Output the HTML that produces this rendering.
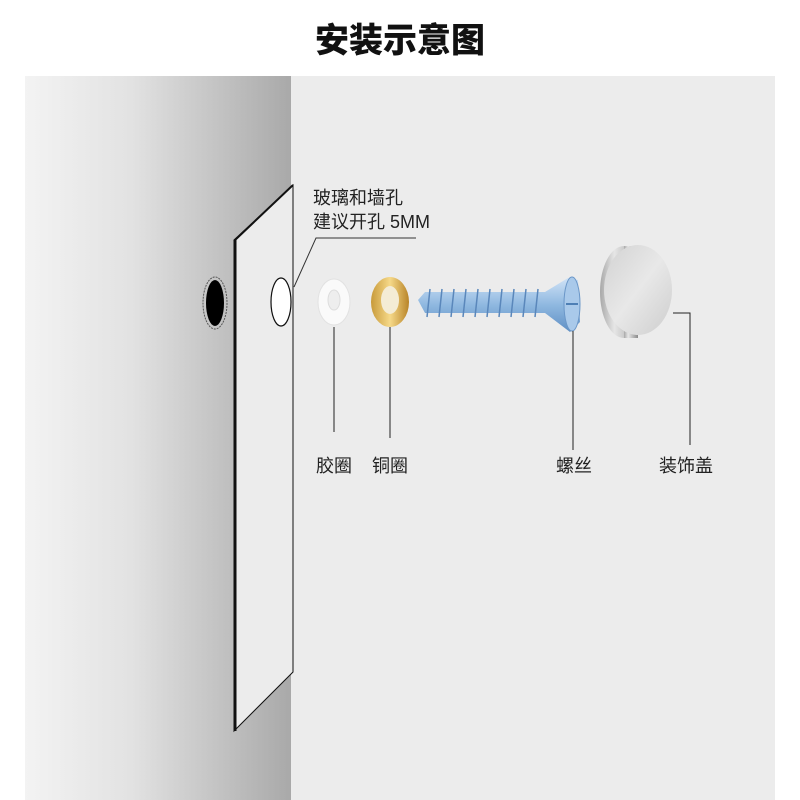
<!DOCTYPE html>
<html><head><meta charset="utf-8"><style>
body{margin:0;width:800px;height:800px;background:#fff;overflow:hidden;font-family:"Liberation Sans","Noto Sans CJK SC",sans-serif;}
.t{position:absolute;color:#222;font-size:18px;}
</style></head><body>
<div style="position:absolute;left:0;top:13px;width:800px;text-align:center;font-size:34px;font-weight:900;color:#111;font-family:'Noto Sans CJK SC',sans-serif;">安装示意图</div>
<svg style="position:absolute;left:0;top:0" width="800" height="800">
<defs>
<linearGradient id="g" x1="0" x2="1"><stop offset="0" stop-color="#f3f3f3"/><stop offset="0.4" stop-color="#e2e2e2"/><stop offset="1" stop-color="#a9a9a9"/></linearGradient>
<linearGradient id="cap" x1="0" x2="1"><stop offset="0" stop-color="#a8a8a8"/><stop offset="0.3" stop-color="#e6e6e6"/><stop offset="0.7" stop-color="#b0b0b0"/><stop offset="1" stop-color="#8a8a8a"/></linearGradient>
<linearGradient id="face" x1="0" y1="0" x2="1" y2="1"><stop offset="0" stop-color="#d2d2d2"/><stop offset="0.5" stop-color="#e8e8e8"/><stop offset="1" stop-color="#cdcdcd"/></linearGradient>
<linearGradient id="gold" x1="0" x2="1"><stop offset="0" stop-color="#c89a3a"/><stop offset="0.5" stop-color="#f6d989"/><stop offset="1" stop-color="#b88428"/></linearGradient>
<linearGradient id="blue" x1="0" y1="0" x2="0" y2="1"><stop offset="0" stop-color="#cfe2f6"/><stop offset="0.5" stop-color="#8fb8e0"/><stop offset="1" stop-color="#5f8fc4"/></linearGradient>
</defs>
<rect x="25" y="76" width="750" height="724" fill="#ececec"/>
<rect x="25" y="76" width="266" height="724" fill="url(#g)"/>
<polygon points="234,240 293,185 293,672 234,731" fill="#ececec" stroke="#111" stroke-width="1"/>
<line x1="235" y1="240" x2="235" y2="731" stroke="#111" stroke-width="3"/>
<line x1="234" y1="241" x2="293" y2="185" stroke="#111" stroke-width="2"/>
<ellipse cx="215" cy="303" rx="12" ry="26" fill="none" stroke="#555" stroke-dasharray="2,1"/>
<ellipse cx="215" cy="303" rx="9" ry="23" fill="#000"/>
<ellipse cx="281" cy="302" rx="10" ry="24" fill="#fff" stroke="#111" stroke-width="1.2"/>
<polyline points="294,287 316,238 416,238" fill="none" stroke="#333" stroke-width="1"/>
<ellipse cx="334" cy="302" rx="16" ry="23" fill="#fafafa" stroke="#e2e2e2"/>
<ellipse cx="334" cy="300" rx="6" ry="10" fill="#eee" stroke="#ddd"/>
<ellipse cx="390" cy="302" rx="19" ry="25" fill="url(#gold)"/>
<ellipse cx="390" cy="300" rx="9" ry="14" fill="#f4ecd5"/>
<polygon points="418,300 425,292 545,292 568,278 578,280 580,322 570,332 545,313 425,313" fill="url(#blue)"/>
<g stroke="#5a87bb" stroke-width="1.5">
<line x1="430" y1="289" x2="427" y2="317"/><line x1="442" y1="289" x2="439" y2="317"/><line x1="454" y1="289" x2="451" y2="317"/><line x1="466" y1="289" x2="463" y2="317"/><line x1="478" y1="289" x2="475" y2="317"/><line x1="490" y1="289" x2="487" y2="317"/><line x1="502" y1="289" x2="499" y2="317"/><line x1="514" y1="289" x2="511" y2="317"/><line x1="526" y1="289" x2="523" y2="317"/><line x1="538" y1="289" x2="535" y2="317"/>
</g>
<ellipse cx="572" cy="304" rx="8" ry="27" fill="#a9c9ea" stroke="#6b97c8"/>
<line x1="566" y1="304" x2="578" y2="304" stroke="#4e7fb5" stroke-width="2"/>
<ellipse cx="624" cy="292" rx="24" ry="46" fill="url(#cap)"/>
<rect x="624" y="246" width="14" height="92" fill="url(#cap)"/>
<ellipse cx="638" cy="290" rx="34" ry="45" fill="url(#face)"/>
<g stroke="#222" stroke-width="1" fill="none">
<line x1="334" y1="327" x2="334" y2="432"/>
<line x1="390" y1="327" x2="390" y2="438"/>
<line x1="573" y1="331" x2="573" y2="450"/>
<polyline points="673,313 690,313 690,445"/>
</g>
</svg>
<div class="t" style="left:313px;top:184px;">玻璃和墙孔</div>
<div class="t" style="left:313px;top:208px;">建议开孔 5MM</div>
<div class="t" style="left:316px;top:452px;">胶圈</div>
<div class="t" style="left:372px;top:452px;">铜圈</div>
<div class="t" style="left:556px;top:452px;">螺丝</div>
<div class="t" style="left:659px;top:452px;">装饰盖</div>
</body></html>
